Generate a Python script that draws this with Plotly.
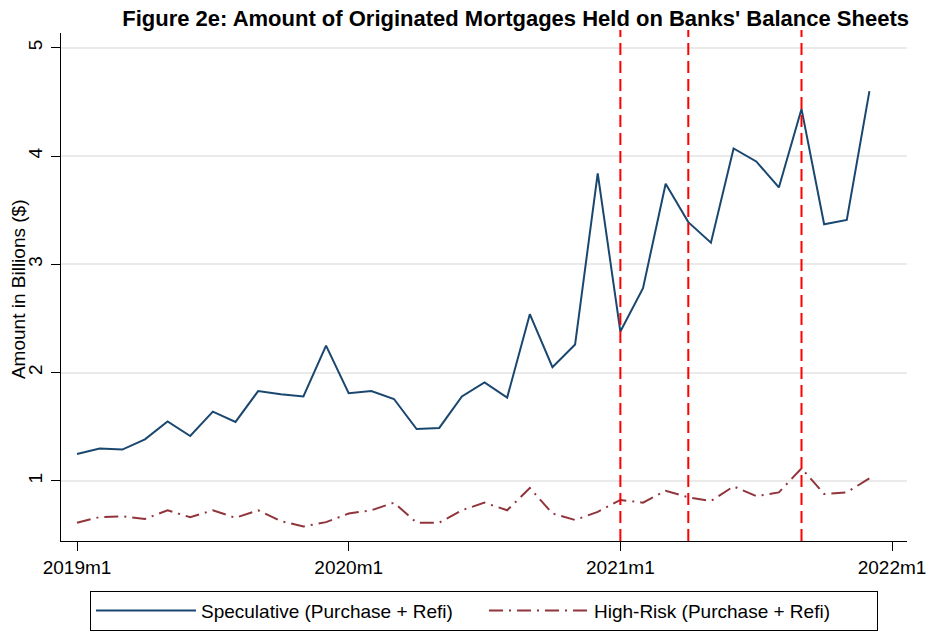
import plotly.graph_objects as go

# Monthly observations, 2019m1 .. 2021m12
months = [f"{y}m{m}" for y in (2019, 2020, 2021) for m in range(1, 13)]

speculative = [
    1.25, 1.30, 1.29, 1.385, 1.55, 1.415, 1.64, 1.545, 1.83, 1.80, 1.78, 2.25,
    1.81, 1.83, 1.757, 1.48, 1.49, 1.78, 1.91, 1.77, 2.54, 2.05, 2.26, 3.84,
    2.38, 2.78, 3.745, 3.39, 3.20, 4.07, 3.95, 3.71, 4.435, 3.37, 3.41, 4.60,
]
high_risk = [
    0.615, 0.667, 0.674, 0.65, 0.73, 0.665, 0.73, 0.66, 0.73, 0.63, 0.58, 0.62,
    0.70, 0.73, 0.80, 0.615, 0.615, 0.73, 0.80, 0.73, 0.935, 0.70, 0.64, 0.715,
    0.825, 0.80, 0.91, 0.85, 0.815, 0.95, 0.86, 0.895, 1.117, 0.88, 0.895, 1.025,
]

# Reference months marked with vertical lines
event_months = ["2021m1", "2021m4", "2021m9"]

x_tick_labels = ["2019m1", "2020m1", "2021m1", "2022m1"]
y_ticks = [1, 2, 3, 4, 5]

idx = list(range(len(months)))
x_tick_vals = [12 * k for k in range(len(x_tick_labels))]

font_family = "Liberation Sans, Arial, sans-serif"

fig = go.Figure()
fig.add_trace(go.Scatter(
    x=idx, y=speculative, mode="lines",
    name="Speculative (Purchase + Refi)",
    line=dict(color="#1a476f", width=2),
    text=months, hovertemplate="%{text}: %{y}<extra></extra>",
))
fig.add_trace(go.Scatter(
    x=idx, y=high_risk, mode="lines",
    name="High-Risk (Purchase + Refi)",
    line=dict(color="#90353b", width=2, dash="14px,6px,2px,6px"),
    text=months, hovertemplate="%{text}: %{y}<extra></extra>",
))

for m in event_months:
    fig.add_shape(
        type="line", xref="x", yref="paper",
        x0=months.index(m), x1=months.index(m), y0=0, y1=1.006,
        line=dict(color="#ff0000", width=2, dash="12px,6px"),
    )

# Vertical axis title, set as a rotated annotation left of the tick labels
fig.add_annotation(
    text="Amount in Billions ($)", textangle=-90,
    xref="paper", yref="paper", x=-0.0508, y=0.496,
    xanchor="center", yanchor="middle", showarrow=False,
    font=dict(family=font_family, size=19, color="#000000"),
)

fig.update_layout(
    width=929, height=636,
    margin=dict(l=61, r=22, t=33, b=95),
    paper_bgcolor="white", plot_bgcolor="white",
    font=dict(family=font_family, size=19, color="#000000"),
    title=dict(
        text="<b>Figure 2e: Amount of Originated Mortgages Held on Banks' Balance Sheets</b>",
        x=0.555, xanchor="center", y=0.972, yanchor="middle",
        font=dict(family=font_family, size=22, color="#000000"),
    ),
    showlegend=True,
    legend=dict(
        orientation="h", xref="paper", x=0.5, xanchor="center",
        yref="container", y=0.0715, yanchor="top",
        bordercolor="#000000", borderwidth=1, bgcolor="white",
        font=dict(family=font_family, size=19),
        itemwidth=100, entrywidth=278,
    ),
)

fig.update_xaxes(
    range=[-0.707, 36.66],
    tickvals=x_tick_vals, ticktext=x_tick_labels,
    showgrid=False, zeroline=False, automargin=False,
    showline=True, linecolor="#000000", linewidth=1,
    ticks="outside", ticklen=9, tickcolor="#000000",
    tickfont=dict(size=19),
)
fig.update_yaxes(
    range=[0.446, 5.136],
    tickvals=y_ticks, ticktext=[str(v) for v in y_ticks],
    tickangle=-90,
    showgrid=True, gridcolor="#eaeaea", gridwidth=1.5, zeroline=False,
    automargin=False,
    showline=True, linecolor="#000000", linewidth=1,
    ticks="outside", ticklen=9, tickcolor="#000000",
    tickfont=dict(size=19), ticklabelstandoff=1,
)

fig.write_html("out.html")
